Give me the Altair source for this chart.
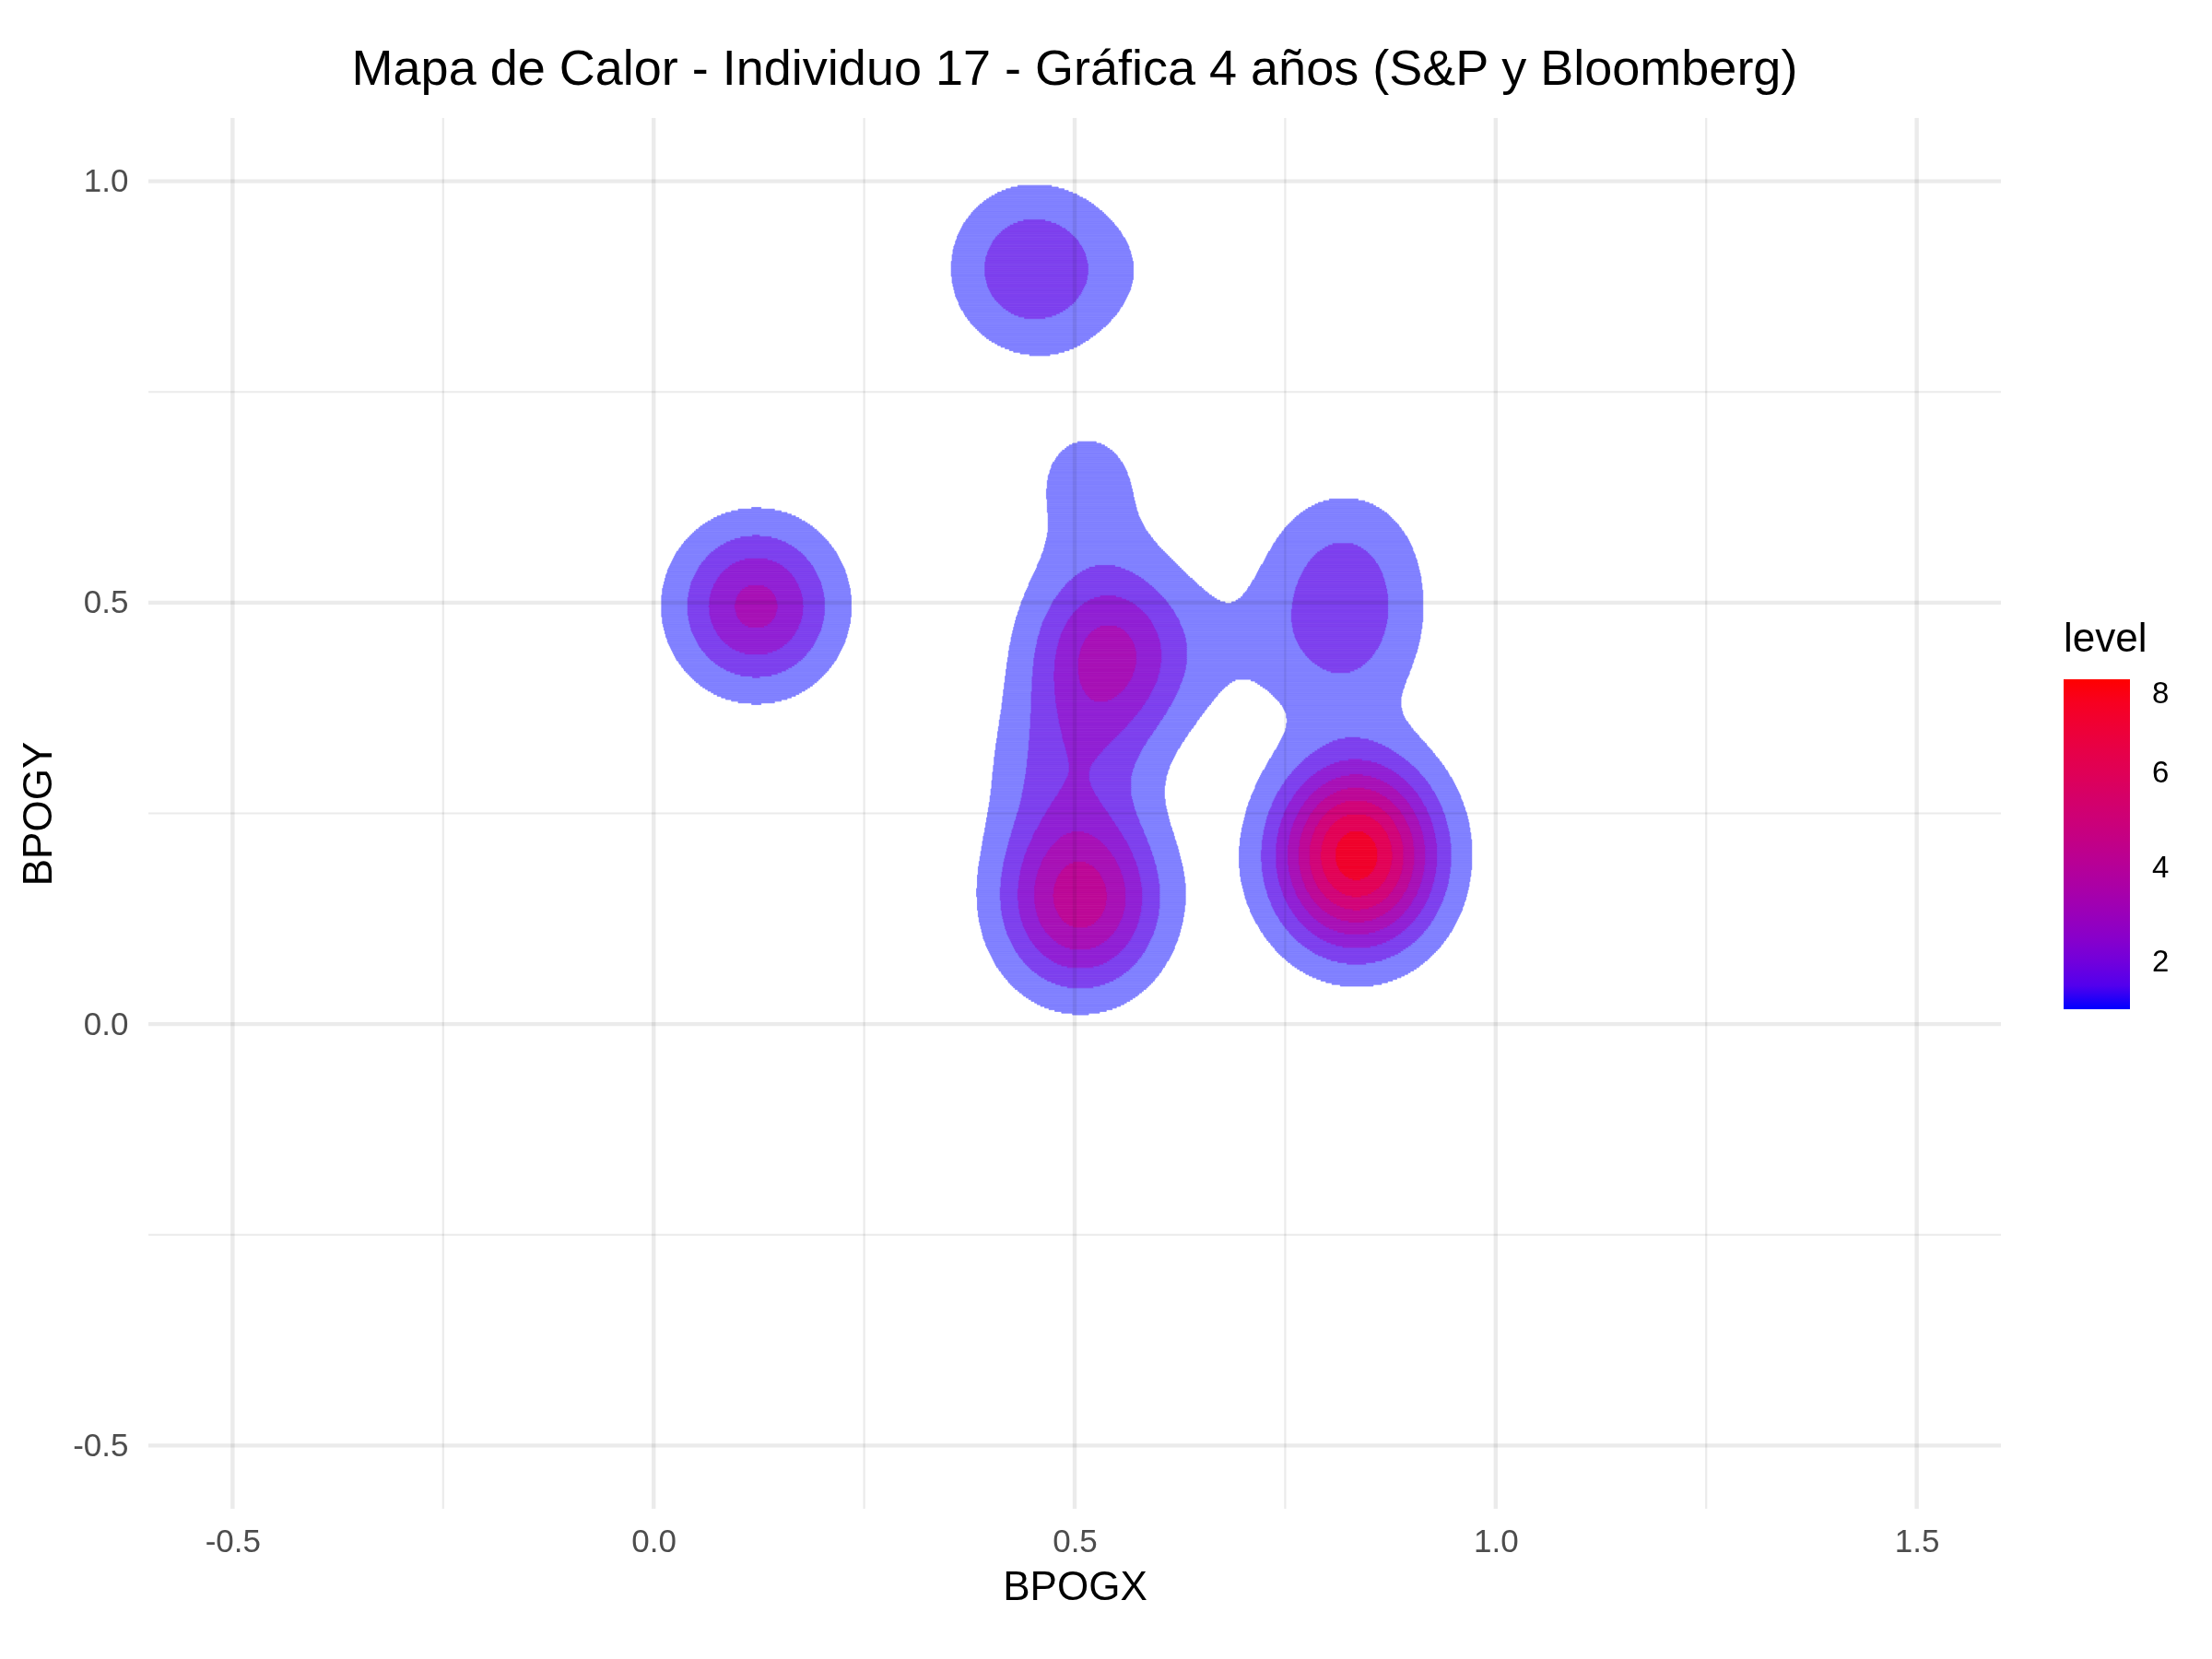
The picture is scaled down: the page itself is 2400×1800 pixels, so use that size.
import numpy as np
import pandas as pd
import altair as alt

alt.data_transformers.disable_max_rows()

FONT = "Liberation Sans"
TITLE = "Mapa de Calor - Individuo 17 - Gráfica 4 años (S&P y Bloomberg)"

# Gaze fixation centres (BPOGX, BPOGY) and their share of samples
fix_x = [0.122, 0.449, 0.575, 0.835, 0.835, 0.820, 0.820, 0.507, 0.507, 0.492, 0.540, 0.540, 0.515, 0.685]
fix_y = [0.496, 0.8965, 0.892, 0.169, 0.232, 0.455, 0.550, 0.120, 0.175, 0.305, 0.410, 0.470, 0.645, 0.445]
fix_w = [0.1213, 0.0800, 0.01325, 0.1348, 0.1348, 0.0522, 0.0465, 0.0838, 0.0838, 0.0510, 0.0661, 0.0661, 0.0344, 0.0147]

# kernel bandwidths (sd) of the 2-D density
bw_x, bw_y = 0.066, 0.068

# contour breaks ("level")
levels = [1, 2, 3, 4, 5, 6, 7, 8]
legend_values = [2, 4, 6, 8]

# axes
x_ticks = [-0.5, 0.0, 0.5, 1.0, 1.5]
x_minor = [-0.25, 0.25, 0.75, 1.25]
y_ticks = [-0.5, 0.0, 0.5, 1.0]
y_minor = [-0.25, 0.25, 0.75]
x_domain = [-0.6, 1.6]
y_domain = [-0.575, 1.075]

# ---------- density on a fine grid ----------
dx, dy = 0.001, 0.002
gx = np.arange(-0.1, 1.2 + 1e-9, dx)
gy = np.arange(-0.1, 1.15 + 1e-9, dy)
GX, GY = np.meshgrid(gx, gy)
D = np.zeros_like(GX)
for x0, y0, w in zip(fix_x, fix_y, fix_w):
    D += w / (2 * np.pi * bw_x * bw_y) * np.exp(
        -((GX - x0) ** 2 / (2 * bw_x ** 2) + (GY - y0) ** 2 / (2 * bw_y ** 2)))
K = np.zeros(D.shape, dtype=int)
for L in levels:
    K += (D >= L).astype(int)

rows = []
for j, yv in enumerate(gy):
    r = K[j]
    n = len(r)
    i = 0
    while i < n:
        k = r[i]
        s = i
        while i < n and r[i] == k:
            i += 1
        if k > 0:
            rows.append({"x": round(float(gx[s] - dx / 2), 4),
                         "x2": round(float(gx[i - 1] + dx / 2), 4),
                         "y": round(float(yv - dy / 2), 5),
                         "k": int(k)})
df = pd.DataFrame(rows)


# ---------- colours: blue->red in Lab, each level polygon alpha 0.5 stacked ----------
def srgb2lab(rgb):
    lin = []
    for v in rgb:
        v = v / 255.0
        lin.append(v / 12.92 if v <= 0.04045 else ((v + 0.055) / 1.055) ** 2.4)
    X = 0.4124564 * lin[0] + 0.3575761 * lin[1] + 0.1804375 * lin[2]
    Y = 0.2126729 * lin[0] + 0.7151522 * lin[1] + 0.0721750 * lin[2]
    Z = 0.0193339 * lin[0] + 0.1191920 * lin[1] + 0.9503041 * lin[2]
    f = lambda t: t ** (1 / 3) if t > (6 / 29) ** 3 else t / (3 * (6 / 29) ** 2) + 4 / 29
    fx, fy, fz = f(X / 0.95047), f(Y / 1.0), f(Z / 1.08883)
    return (116 * fy - 16, 500 * (fx - fy), 200 * (fy - fz))


def lab2srgb(L, a, b):
    fy = (L + 16) / 116
    fx = fy + a / 500
    fz = fy - b / 200
    finv = lambda t: t ** 3 if t > 6 / 29 else 3 * (6 / 29) ** 2 * (t - 4 / 29)
    X, Y, Z = 0.95047 * finv(fx), finv(fy), 1.08883 * finv(fz)
    R = 3.2404542 * X - 1.5371385 * Y - 0.4985314 * Z
    G = -0.9692660 * X + 1.8760108 * Y + 0.0415560 * Z
    B = 0.0556434 * X - 0.2040259 * Y + 1.0572252 * Z
    out = []
    for c in (R, G, B):
        c = min(max(c, 0.0), 1.0)
        c = 12.92 * c if c <= 0.0031308 else 1.055 * c ** (1 / 2.4) - 0.055
        out.append(c * 255)
    return out


lab_lo, lab_hi = srgb2lab((0, 0, 255)), srgb2lab((255, 0, 0))
comp = []
cur = np.array([255.0, 255.0, 255.0])
for L in levels:
    t = (L - levels[0]) / (levels[-1] - levels[0])
    c = lab2srgb(*[lab_lo[q] + t * (lab_hi[q] - lab_lo[q]) for q in range(3)])
    cur = 0.5 * np.array(c) + 0.5 * cur
    comp.append("#%02x%02x%02x" % tuple(int(round(v)) for v in cur))

# ---------- chart ----------
xs = alt.Scale(domain=x_domain, nice=False, zero=False)
ys = alt.Scale(domain=y_domain, nice=False, zero=False)
lab_expr = "(datum.value < 0 ? '-' : '') + format(abs(datum.value), '.1f')"

x_axis = alt.Axis(values=x_ticks, labelExpr=lab_expr, grid=False, ticks=False, tickSize=0,
                  domain=False, labelFont=FONT, labelFontSize=35, labelColor="#4D4D4D",
                  labelPadding=46, labelBaseline="alphabetic", labelFlush=False,
                  titleFont=FONT, titleFontSize=44, titleColor="black", titleFontWeight="normal",
                  titleX=1005, titleY=98, titleBaseline="alphabetic", titleAlign="center")
y_axis = alt.Axis(values=y_ticks, labelExpr=lab_expr, grid=False, ticks=False, tickSize=0,
                  domain=False, labelFont=FONT, labelFontSize=35, labelColor="#4D4D4D",
                  labelPadding=22, labelAlign="right", labelBaseline="middle", labelFlush=False,
                  titleFont=FONT, titleFontSize=44, titleColor="black", titleFontWeight="normal",
                  titleAngle=270, titleX=-106, titleY=754.5, titleBaseline="alphabetic",
                  titleAlign="center")

fill_scale = alt.Scale(domain=levels, range=comp)

dens = alt.Chart(df).transform_calculate(
    y2=f"datum.y + {dy}"
).mark_rect(strokeWidth=0.8).encode(
    x=alt.X("x:Q", scale=xs, axis=x_axis, title="BPOGX"),
    x2="x2:Q",
    y=alt.Y("y:Q", scale=ys, axis=y_axis, title="BPOGY"),
    y2="y2:Q",
    fill=alt.Fill("k:O", scale=fill_scale, legend=None),
    stroke=alt.Stroke("k:O", scale=fill_scale, legend=None),
)

GRID = "#EBEBEB"
gv_major = alt.Chart(pd.DataFrame({"g": x_ticks})).mark_rule(
    color=GRID, strokeWidth=4.4, blend="multiply").encode(
    x=alt.X("g:Q", scale=xs, axis=x_axis, title="BPOGX"))
gv_minor = alt.Chart(pd.DataFrame({"g": x_minor})).mark_rule(
    color=GRID, strokeWidth=2.2, blend="multiply").encode(
    x=alt.X("g:Q", scale=xs, axis=x_axis, title="BPOGX"))
gh_major = alt.Chart(pd.DataFrame({"g": y_ticks})).mark_rule(
    color=GRID, strokeWidth=4.4, blend="multiply").encode(
    y=alt.Y("g:Q", scale=ys, axis=y_axis, title="BPOGY"))
gh_minor = alt.Chart(pd.DataFrame({"g": y_minor})).mark_rule(
    color=GRID, strokeWidth=2.2, blend="multiply").encode(
    y=alt.Y("g:Q", scale=ys, axis=y_axis, title="BPOGY"))

leg = alt.Chart(pd.DataFrame({"level": levels})).mark_point(opacity=0).encode(
    x=alt.value(0), y=alt.value(0),
    color=alt.Color("level:Q",
                    scale=alt.Scale(domain=[levels[0], levels[-1]], range=["#0000FF", "#FF0000"],
                                    interpolate="lab"),
                    legend=alt.Legend(title="level", orient="none", legendX=2078, legendY=544,
                                      direction="vertical", type="gradient",
                                      gradientLength=358, gradientThickness=72,
                                      gradientStrokeWidth=0, values=legend_values,
                                      labelFont=FONT, labelFontSize=33, labelColor="black",
                                      labelOffset=24, labelBaseline="middle", labelOverlap=False,
                                      titleFont=FONT, titleFontSize=44, titleFontWeight="normal",
                                      titleColor="black", titlePadding=21, padding=0)),
)

chart = alt.layer(dens, gv_major, gv_minor, gh_major, gh_minor, leg).properties(
    width=2010, height=1509,
    padding={"left": 161, "top": 128, "right": 229, "bottom": 163},
    autosize=alt.AutoSizeParams(type="none"),
    background="white",
    title=alt.TitleParams(text=TITLE, font=FONT, fontSize=54, fontWeight="normal", color="black",
                          anchor="middle", frame="group", offset=35, dy=56,
                          baseline="alphabetic"),
).configure_view(stroke=None)

chart.save("out.html", embed_options={"renderer": "svg", "actions": False})
